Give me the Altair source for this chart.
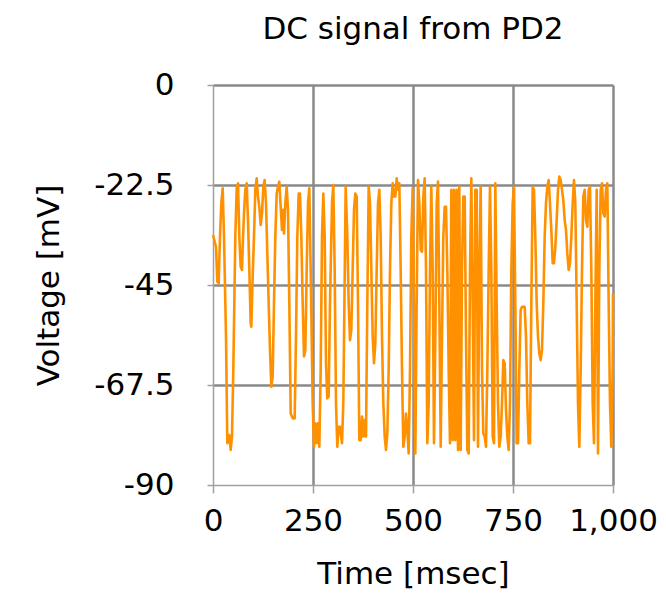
import altair as alt
import pandas as pd

time_ms = [
    0, 7.5, 10.8, 14.2, 17.5, 20.8, 24.2, 27.5, 32.5, 35.8, 40.8, 44.2, 47.5, 50.8, 55.8, 59.2,
    62.5, 65.8, 69.2, 72.5, 74.2, 77.5, 80.8, 84.2, 87.5, 90.8, 94.2, 95.8, 99.2, 102.5, 105.8,
    109.2, 112.5, 115.8, 119.2, 122.5, 125.8, 129.2, 132.5, 135.8, 139.2, 142.5, 145.8, 149.2,
    152.5, 155.8, 159.2, 162.5, 165.8, 169.2, 172.5, 175.8, 177.5, 180.8, 184.2, 187.5, 190.8,
    194.2, 199.2, 204.2, 207.5, 210.8, 214.2, 217.5, 220.8, 224.2, 227.5, 230.8, 234.2, 237.5,
    240.8, 244.2, 249.2, 252.5, 255.8, 259.2, 262.5, 265.8, 269.2, 272.5, 275.8, 279.2, 282.5,
    285.8, 289.2, 292.5, 297.5, 300.8, 304.2, 307.5, 310.8, 314.2, 317.5, 322.5, 325.8,
    331.7, 335.8, 339.2, 342.5, 345.8, 349.2, 352.5, 355.8, 359.2, 362.5, 365.8, 369.2, 372.5,
    375.8, 379.2, 382.5, 385.8, 389.2, 392.5, 395.8, 399.2, 402.5, 405.8, 409.2, 412.5, 415.8,
    419.2, 422.5, 425.8, 429.2, 432.5, 435.8, 439.2, 442.5, 445.8, 449.2, 452.5, 455.8, 459.2,
    462.5, 465.8, 469.2, 472.5, 475.8, 479.2, 482.5, 485.8, 489.2, 492.5, 495.8, 499.2, 502.5,
    505.8, 509.2, 512.5, 515.8, 519.2, 522.5, 525.8, 529.2, 532.5, 535.8, 539.2, 542.5, 545.8,
    549.2, 552.5, 555.8, 559.2, 562.5, 565.8, 569.2, 572.5, 575.8, 579.2, 582.5, 585.8, 589.2,
    592.5, 595.8, 599.2, 602.5, 605.8, 609.2, 612.5, 615.8, 619.2, 622.5, 625.8, 629.2, 632.5,
    635.8, 639.2, 642.5, 645.8, 649.2, 652.5, 655.8, 659.2, 662.5,
    665.8, 669.2, 672.5, 675.8, 679.2, 682.5, 685.8, 689.2, 692.5, 695.8, 699.2, 702.5, 705.8,
    709.2, 712.5, 715.8, 719.2, 722.5, 725.8, 729.2, 732.5, 735.8, 739.2, 742.5, 745.8, 749.2,
    752.5, 755.8, 759.2, 762.5, 765.8, 769.2, 772.5, 775.8, 779.2, 782.5, 785.8, 789.2, 792.5,
    795.8, 799.2, 802.5, 805.8, 809.2, 812.5, 815.8, 819.2, 822.5, 825.8, 829.2, 832.5, 835.8,
    839.2, 842.5, 845.8, 849.2, 852.5, 855.8, 859.2, 862.5, 865.8, 869.2, 872.5, 875.8, 879.2,
    882.5, 885.8, 889.2, 892.5, 895.8, 899.2, 902.5, 905.8, 909.2, 912.5, 915.8, 919.2, 922.5,
    925.8, 929.2, 932.5, 935.8, 939.2, 942.5, 945.8, 949.2, 952.5, 955.8, 959.2, 962.5, 965.8,
    969.2, 972.5, 975.8, 979.2, 982.5, 985.8, 989.2, 992.5, 995.8, 999.2, 1000,
]

voltage_mv = [
    -33.75, -36.4, -44.25, -44.6, -34.1, -26.6, -23.25, -34.1, -56.6, -80.6, -78.75, -82.1, -79.1,
    -64.1, -34.1, -23.25, -22.1, -34.1, -40.9, -41.6, -36.4, -28.9, -23.6, -22.1, -30.4, -41.6,
    -53.6, -54.4, -43.1, -34.1, -23.6, -21.0, -25.1, -27.4, -31.5, -28.9, -22.9, -21.4, -26.6,
    -37.9, -49.1, -59.6, -67.9, -65.6, -49.1, -34.1, -24.4, -22.9, -21.75, -27.4, -32.6, -28.1,
    -33.4, -26.6, -22.9, -28.1, -49.1, -73.9, -75.0, -75.0, -56.6, -34.1, -24.4, -24.4, -34.1,
    -49.1, -61.1, -59.6, -41.6, -26.6, -23.25, -41.6, -71.6, -81.4, -76.1, -80.6, -76.1, -81.4,
    -64.1, -34.1, -24.4, -34.1, -62.6, -70.5, -70.1, -49.1, -26.6, -22.5, -41.6, -71.6, -81.4,
    -76.9, -76.9, -80.6, -71.6,
    -22.9, -34.1, -49.1, -57.4, -55.1, -41.6, -28.1, -24.4, -25.1, -49.1, -79.9, -79.9, -74.6,
    -79.1, -75.4, -79.1, -49.1, -22.9, -26.6, -41.6, -56.6, -62.6, -58.1, -41.6, -26.6, -23.6,
    -34.1, -56.6, -71.6, -79.1, -82.1, -78.4, -64.1, -41.6, -26.6, -22.1, -25.1, -25.1, -21.0,
    -23.6, -22.1, -41.6, -64.1, -81.4, -79.1, -73.9, -77.6, -82.9, -64.1, -34.1, -23.25, -49.1,
    -82.9, -49.1, -21.4, -26.6, -37.1, -37.5, -25.1, -21.0, -41.6, -80.6, -71.6, -41.6, -22.9,
    -41.6, -80.6, -56.6, -26.6, -21.75, -49.1, -81.4, -56.6, -34.1, -27.4, -27.4, -41.6, -64.1,
    -80.6, -23.6, -79.9, -23.6, -79.9, -23.6, -82.1, -22.9, -82.1, -41.6, -25.1, -25.1, -56.6,
    -82.1, -82.9, -41.6, -21.0, -49.1, -79.9, -23.6, -23.6, -81.4,
    -41.6, -22.9, -64.1, -78.4, -79.1, -81.4, -64.1, -41.6, -22.9, -41.6, -79.1, -80.6, -22.1,
    -49.1, -71.6, -81.4, -79.1, -71.6, -61.9, -62.6, -73.1, -79.1, -82.1, -71.6, -41.6, -26.6,
    -22.9, -49.1, -80.6, -80.6, -64.1, -50.6, -49.9, -49.9, -49.9, -56.6, -71.6, -80.6, -80.6,
    -49.1, -22.9, -23.6, -34.1, -49.1, -56.6, -60.4, -61.9, -59.6, -49.1, -34.1, -26.6, -22.9,
    -21.4, -26.6, -32.6, -40.1, -40.1, -36.4, -30.4, -23.6, -20.6, -21.4, -23.6, -25.9, -30.4,
    -32.6, -37.9, -41.6, -40.1, -34.1, -26.6, -21.4, -26.6, -49.1, -71.6, -81.4, -64.1, -41.6,
    -25.1, -23.6, -30.4, -31.9, -23.6, -22.9, -41.6, -71.6, -80.6, -49.1, -23.6, -82.9, -41.6,
    -23.6, -22.1, -28.9, -29.6, -23.6, -22.1, -49.1, -71.6, -81.4, -64.1, -46.9,
]

x_ticks = [0, 250, 500, 750, 1000]
y_ticks = [0, -22.5, -45, -67.5, -90]

df = pd.DataFrame({"t": time_ms, "v": voltage_mv})

FONT = "DejaVu Sans"
GRID = "#8a8a8a"
DOMAIN = "#a0a0a0"
FS = 31

chart = (
    alt.Chart(df)
    .mark_line(color="#FF9100", strokeWidth=2.6, strokeJoin="round")
    .encode(
        x=alt.X(
            "t:Q",
            scale=alt.Scale(domain=[0, 1000], nice=False, zero=False),
            axis=alt.Axis(
                values=x_ticks,
                title="Time [msec]",
                labelExpr="format(datum.value, ',')",
                labelFontSize=FS,
                labelFont=FONT,
                labelColor="black",
                labelPadding=13,
                labelFlush=False,
                labelOverlap=False,
                tickSize=8,
                tickColor=DOMAIN,
                tickWidth=1.5,
                domainColor=DOMAIN,
                domainWidth=1.5,
                grid=True,
                gridColor=GRID,
                gridWidth=2.5,
                gridOpacity=alt.condition("datum.value == 0", alt.value(0), alt.value(1)),
                titleFontSize=FS,
                titleFont=FONT,
                titleFontWeight="normal",
                titleColor="black",
                titlePadding=23,
            ),
        ),
        y=alt.Y(
            "v:Q",
            scale=alt.Scale(domain=[-90, 0], nice=False, zero=False),
            axis=alt.Axis(
                values=y_ticks,
                title="Voltage [mV]",
                labelExpr="'' + datum.value",
                labelFontSize=FS,
                labelFont=FONT,
                labelColor="black",
                labelPadding=33,
                labelFlush=False,
                labelOverlap=False,
                tickSize=6,
                tickColor=DOMAIN,
                tickWidth=1.5,
                domainColor=DOMAIN,
                domainWidth=1.5,
                grid=True,
                gridColor=GRID,
                gridWidth=2.5,
                gridOpacity=alt.condition("datum.value == -90", alt.value(0), alt.value(1)),
                titleFontSize=FS,
                titleFont=FONT,
                titleFontWeight="normal",
                titleColor="black",
                titlePadding=28,
            ),
        ),
    )
    .properties(
        width=400,
        height=400,
        title=alt.TitleParams(
            text="DC signal from PD2",
            fontSize=FS,
            font=FONT,
            fontWeight="normal",
            color="black",
            offset=23,
            anchor="middle",
        ),
        autosize=alt.AutoSizeParams(type="none"),
        padding={"left": 205, "top": 77, "right": 45, "bottom": 113},
    )
    .configure_view(strokeWidth=0)
    .configure(background="white")
)

chart.save("out.html", embed_options={"renderer": "svg", "actions": False})
